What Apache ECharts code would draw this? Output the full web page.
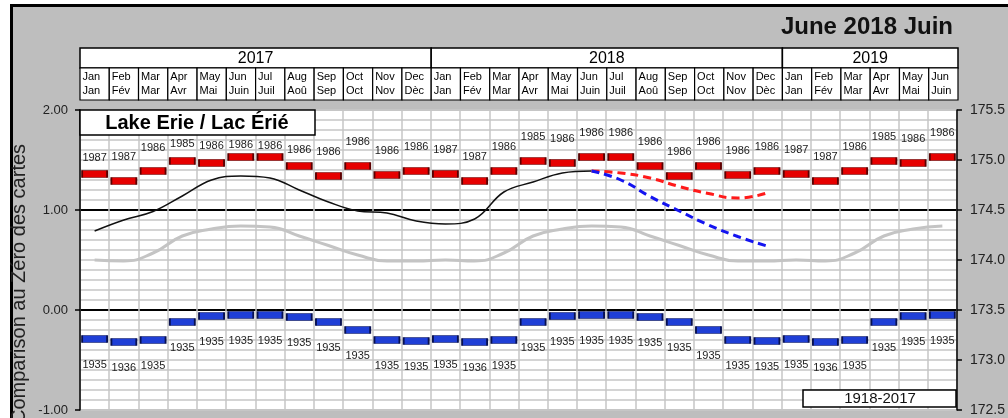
<!DOCTYPE html>
<html><head><meta charset="utf-8">
<script src="https://cdn.jsdelivr.net/npm/echarts@6/dist/echarts.min.js"></script>
<style>html,body{margin:0;padding:0;background:#fff}#c{width:1008px;height:418px}</style>
</head><body><div id="c"></div>
<script>
// ---- data ----
const monthsEn = ['Jan','Feb','Mar','Apr','May','Jun','Jul','Aug','Sep','Oct','Nov','Dec'];
const monthsFr = ['Jan','Fév','Mar','Avr','Mai','Juin','Juil','Aoû','Sep','Oct','Nov','Dèc'];
const years = ['2017','2018','2019'];
const yearMonthCount = [12, 12, 6];
const maxLevel = [1.36, 1.29, 1.39, 1.49, 1.47, 1.53, 1.53, 1.44, 1.34, 1.44, 1.35, 1.39];
const maxYear = ['1987','1987','1986','1985','1986','1986','1986','1986','1986','1986','1986','1986'];
const minLevel = [-0.29, -0.32, -0.30, -0.12, -0.06, -0.05, -0.05, -0.07, -0.12, -0.20, -0.30, -0.31];
const minYear = ['1935','1936','1935','1935','1935','1935','1935','1935','1935','1935','1935','1935'];
const avgLevel = [0.50, 0.49, 0.57, 0.74, 0.81, 0.84, 0.83, 0.74, 0.645, 0.55, 0.49, 0.49];
const recorded = [0.79, 0.90, 0.985, 1.14, 1.30, 1.34, 1.32, 1.20, 1.08, 0.99, 0.97, 0.89, 0.86, 0.91, 1.18, 1.28, 1.37, 1.39];
const forecastHigh = [1.39, 1.37, 1.32, 1.235, 1.165, 1.12, 1.17];
const forecastLow = [1.39, 1.30, 1.135, 0.99, 0.85, 0.735, 0.64];
const forecastStart = 17;
const periodLabel = '1918-2017';
const lakeTitle = 'Lake Erie / Lac Érié';
const dateTitle = 'June 2018 Juin';
const yTitle = 'Comparison au Zéro des cartes';

// label nudges (styling) for first months so they clear the title box
const maxLabelNudge = [8, 0, 1, 7, 7, 12, 13, 8];

const FONT = '"Liberation Sans", Arial, Helvetica, sans-serif';
const N = yearMonthCount.reduce((a, b) => a + b, 0);

const maxData = [], minData = [], avgData = [];
for (let i = 0; i < N; i++) {
  const m = i % 12;
  const nud = maxLabelNudge[i] || 0;
  maxData.push({ value: [i + 0.5, maxLevel[m]], label: { offset: [0, nud] } });
  minData.push({ value: [i + 0.5, minLevel[m]] });
  avgData.push([i + 0.5, avgLevel[m]]);
}
const recData = recorded.map((v, i) => [i + 0.5, v]);
const fhData = forecastHigh.map((v, i) => [forecastStart + i + 0.5, v]);
const flData = forecastLow.map((v, i) => [forecastStart + i + 0.5, v]);

const yearCells = [];
let acc = 0;
years.forEach((y, k) => { yearCells.push([acc, acc + yearMonthCount[k]]); acc += yearMonthCount[k]; });
const monthCells = [];
for (let i = 0; i < N; i++) monthCells.push([i]);

const chart = echarts.init(document.getElementById('c'));
chart.setOption({
  backgroundColor: '#ffffff',
  animation: false,
  textStyle: { fontFamily: FONT },
  grid: [
    { left: 80, right: 50, top: 110, height: 300, show: true, backgroundColor: '#ffffff', borderWidth: 0 },
    { left: 80, right: 50, top: 48, height: 52, show: false }
  ],
  xAxis: [
    { gridIndex: 0, type: 'value', min: 0, max: N, interval: 1,
      axisLine: { show: false }, axisTick: { show: false }, axisLabel: { show: false },
      splitLine: { show: true, lineStyle: { color: '#c6c6c6', width: 1.5 } } },
    { gridIndex: 1, type: 'value', min: 0, max: N, show: false }
  ],
  yAxis: [
    { gridIndex: 0, type: 'value', min: -1, max: 2, interval: 1, position: 'left',
      axisLine: { show: true, lineStyle: { color: '#000', width: 1.5 } },
      axisTick: { show: true, length: 5, lineStyle: { color: '#000', width: 1.5 } },
      axisLabel: { fontSize: 13, color: '#222', margin: 12, formatter: v => v.toFixed(2) },
      splitLine: { show: true, lineStyle: { color: ['#c6c6c6', '#000', '#000', '#c6c6c6'], width: 2 } },
      minorTick: { show: false, splitNumber: 10 },
      minorSplitLine: { show: true, lineStyle: { color: '#c6c6c6', width: 1.5 } } },
    { gridIndex: 0, type: 'value', min: 172.5, max: 175.5, interval: 0.5, position: 'right',
      axisLine: { show: true, lineStyle: { color: '#000', width: 1.5 } },
      axisTick: { show: true, length: 5, lineStyle: { color: '#000', width: 1.5 } },
      axisLabel: { fontSize: 14, color: '#222', margin: 13, formatter: v => v.toFixed(1) },
      splitLine: { show: false } },
    { gridIndex: 1, type: 'value', min: 0, max: 52, show: false }
  ],
  graphic: [
    { type: 'rect', z: -100, shape: { x: 11.5, y: 5.5, width: 1200, height: 600 },
      style: { fill: '#bebebe', stroke: '#000', lineWidth: 3 } },
    { type: 'text', z: 10, x: 953, y: 27,
      style: { text: dateTitle, fontSize: 24, fontWeight: 'bold', fontFamily: FONT, fill: '#111', align: 'right', verticalAlign: 'middle' } },
    { type: 'rect', z: 10, shape: { x: 80, y: 110, width: 235, height: 25 },
      style: { fill: '#fff', stroke: '#000', lineWidth: 1.5 } },
    { type: 'text', z: 11, x: 197, y: 123,
      style: { text: lakeTitle, fontSize: 20, fontWeight: 'bold', fontFamily: FONT, fill: '#000', align: 'center', verticalAlign: 'middle' } },
    { type: 'rect', z: 10, shape: { x: 803, y: 390, width: 153, height: 17 },
      style: { fill: '#fff', stroke: '#000', lineWidth: 1.5 } },
    { type: 'text', z: 11, x: 880, y: 399,
      style: { text: periodLabel, fontSize: 15, fontFamily: FONT, fill: '#111', align: 'center', verticalAlign: 'middle' } },
    { type: 'text', z: 10, x: 19, y: 284, rotation: Math.PI / 2,
      style: { text: yTitle, fontSize: 20, fontFamily: FONT, fill: '#222', align: 'center', verticalAlign: 'middle' } }
  ],
  series: [
    { type: 'line', name: 'avg', xAxisIndex: 0, yAxisIndex: 0, data: avgData, smooth: 0.5, showSymbol: false, symbol: 'none',
      lineStyle: { color: '#c4c4c4', width: 3 }, z: 3, silent: true },
    { type: 'line', name: 'recorded', xAxisIndex: 0, yAxisIndex: 0, data: recData, smooth: 0.4, symbol: 'none',
      lineStyle: { color: '#111', width: 1.5 }, z: 4, silent: true },
    { type: 'line', name: 'high', xAxisIndex: 0, yAxisIndex: 0, data: fhData, smooth: 0.5, symbol: 'none',
      lineStyle: { color: '#ff1a1a', width: 3, type: [8, 5] }, z: 4, silent: true },
    { type: 'line', name: 'low', xAxisIndex: 0, yAxisIndex: 0, data: flData, smooth: 0.5, symbol: 'none',
      lineStyle: { color: '#1414f0', width: 3, type: [8, 5] }, z: 4, silent: true },
    { type: 'scatter', name: 'max', xAxisIndex: 0, yAxisIndex: 0, data: maxData, symbol: 'rect', symbolSize: [25, 7],
      itemStyle: { color: '#e60000', borderColor: '#5a0000', borderWidth: 1, opacity: 1 }, z: 5,
      label: { show: true, position: 'top', distance: 15, fontSize: 11, color: '#222', fontFamily: FONT,
        formatter: p => maxYear[p.dataIndex % 12] } },
    { type: 'scatter', name: 'min', xAxisIndex: 0, yAxisIndex: 0, data: minData, symbol: 'rect', symbolSize: [25, 7],
      itemStyle: { color: '#1f3fd6', borderColor: '#08104f', borderWidth: 1, opacity: 1 }, z: 5,
      label: { show: true, position: 'bottom', distance: 17, fontSize: 11, color: '#222', fontFamily: FONT,
        formatter: p => minYear[p.dataIndex % 12] } },
    { type: 'custom', name: 'yearHeader', xAxisIndex: 1, yAxisIndex: 2, data: yearCells, silent: true, z: 5,
      renderItem: (params, api) => {
        const k = params.dataIndex;
        const p0 = api.coord([api.value(0), 52]);
        const p1 = api.coord([api.value(1), 32]);
        return { type: 'group', children: [
          { type: 'rect', shape: { x: p0[0], y: p0[1], width: p1[0] - p0[0], height: p1[1] - p0[1] },
            style: { fill: '#fff', stroke: '#000', lineWidth: 1.5 } },
          { type: 'text', style: { text: years[k], x: (p0[0] + p1[0]) / 2, y: (p0[1] + p1[1]) / 2 + 1,
            fontSize: 16, fontFamily: FONT, fill: '#000', align: 'center', verticalAlign: 'middle' } }
        ] };
      } },
    { type: 'custom', name: 'monthHeader', xAxisIndex: 1, yAxisIndex: 2, data: monthCells, silent: true, z: 5,
      renderItem: (params, api) => {
        const i = params.dataIndex;
        const m = i % 12;
        const p0 = api.coord([api.value(0), 32]);
        const p1 = api.coord([api.value(0) + 1, 0]);
        return { type: 'group', children: [
          { type: 'rect', shape: { x: p0[0], y: p0[1], width: p1[0] - p0[0], height: p1[1] - p0[1] },
            style: { fill: '#fff', stroke: '#000', lineWidth: 1.2 } },
          { type: 'text', style: { text: monthsEn[m] + '\n' + monthsFr[m], x: p0[0] + 2.5, y: p0[1] + 2,
            fontSize: 11, lineHeight: 14, fontFamily: FONT, fill: '#000', align: 'left', verticalAlign: 'top' } }
        ] };
      } }
  ]
});
</script></body></html>
